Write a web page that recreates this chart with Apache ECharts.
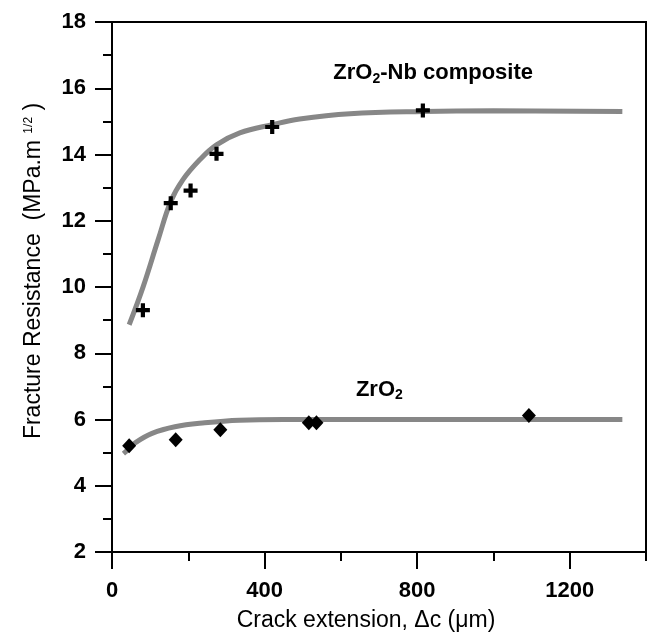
<!DOCTYPE html>
<html>
<head>
<meta charset="utf-8">
<script src="https://cdn.jsdelivr.net/npm/echarts@6/dist/echarts.min.js"></script>
<style>
html, body { margin: 0; padding: 0; background: #fff; }
#chart { width: 648px; height: 637px; }
</style>
</head>
<body>
<div id="chart"></div>
<script>
// measured data points
var compositeX = [81, 154, 206, 274, 420, 815];
var compositeY = [9.3, 12.53, 12.91, 14.02, 14.83, 15.33];
var zro2X = [45, 167, 284, 516, 536, 1093];
var zro2Y = [5.21, 5.39, 5.69, 5.9, 5.9, 6.12];
// fitted curves
var compositeFitX = [45, 82, 121, 154, 186, 230, 274, 335, 420, 492, 624, 815, 1000, 1338];
var compositeFitY = [8.86, 10.02, 11.43, 12.58, 13.24, 13.84, 14.29, 14.65, 14.9, 15.07, 15.23, 15.3, 15.32, 15.3];
var zro2FitX = [30, 45, 60, 105, 165, 243, 334, 450, 700, 1338];
var zro2FitY = [4.97, 5.12, 5.29, 5.58, 5.78, 5.9, 5.98, 6.0, 6.0, 6.0];
// axis ticks
var xMajorTicks = [0, 400, 800, 1200];
// in-plot labels
var labelText = ['{b|ZrO}{s|2}{b|-Nb composite}', '{b|ZrO}{s|2}'];
var labelX = [842, 701];
var labelY = [16.45, 6.9];

function zip(xs, ys) {
    var out = [];
    for (var i = 0; i < xs.length; i++) out.push([xs[i], ys[i]]);
    return out;
}

var font = 'Liberation Sans, Arial, sans-serif';
var black = '#000';
var plusPath = 'path://M3.5,0H6.5V3.5H10V6.5H6.5V10H3.5V6.5H0V3.5H3.5Z';

var chart = echarts.init(document.getElementById('chart'));
var option = {
    animation: false,
    backgroundColor: '#fff',
    grid: {
        left: 112,
        right: 2,
        top: 22,
        bottom: 85,
        show: true,
        borderColor: black,
        borderWidth: 2,
        containLabel: false,
        outerBoundsMode: 'none'
    },
    xAxis: [
        {
            type: 'value',
            min: 0,
            max: 1400,
            interval: 400,
            position: 'bottom',
            axisLine: { lineStyle: { color: black, width: 2 } },
            axisTick: { length: 17, lineStyle: { color: black, width: 2 }, customValues: xMajorTicks },
            axisLabel: {
                customValues: xMajorTicks,
                formatter: function (v) { return String(v); },
                color: black, fontSize: 22, fontWeight: 'bold', fontFamily: font, margin: 28
            },
            splitLine: { show: false },
            name: 'Crack extension, \u0394c (\u03bcm)',
            nameLocation: 'middle',
            nameGap: 57,
            nameTextStyle: { color: black, fontSize: 23, fontFamily: font, padding: [0, 26, 0, 0] }
        },
        {
            type: 'value',
            min: 0,
            max: 1400,
            interval: 200,
            position: 'bottom',
            axisLine: { show: false },
            axisTick: { length: 9, lineStyle: { color: black, width: 2 } },
            axisLabel: { show: false },
            splitLine: { show: false }
        }
    ],
    yAxis: {
        type: 'value',
        min: 2,
        max: 18,
        interval: 2,
        axisLine: { show: true, lineStyle: { color: black, width: 2 } },
        axisTick: { show: true, length: 17, lineStyle: { color: black, width: 2 } },
        minorTick: { show: true, splitNumber: 2, length: 9, lineStyle: { color: black, width: 2 } },
        axisLabel: { color: black, fontSize: 22, fontWeight: 'bold', fontFamily: font, margin: 26 },
        splitLine: { show: false },
        name: '{t|Fracture Resistance  (MPa.m }{u|1/2}{t| )}',
        nameLocation: 'middle',
        nameGap: 67,
        nameTextStyle: {
            padding: [0, 0, 0, 32],
            rich: {
                t: { color: black, fontSize: 23, fontFamily: font },
                u: { color: black, fontSize: 12, fontFamily: font, padding: [0, 0, 10, 0] }
            }
        }
    },
    series: [
        {
            type: 'line',
            data: zip(compositeFitX, compositeFitY),
            smooth: 0.4,
            showSymbol: false,
            lineStyle: { color: '#878787', width: 5 },
            z: 2
        },
        {
            type: 'line',
            data: zip(zro2FitX, zro2FitY),
            smooth: 0.4,
            showSymbol: false,
            lineStyle: { color: '#878787', width: 5 },
            z: 2
        },
        {
            type: 'scatter',
            data: zip(compositeX, compositeY),
            symbol: plusPath,
            symbolSize: 14,
            itemStyle: { color: black, opacity: 1 },
            z: 3
        },
        {
            type: 'scatter',
            data: zip(zro2X, zro2Y),
            symbol: 'diamond',
            symbolSize: [14, 15],
            itemStyle: { color: black, opacity: 1 },
            z: 3
        },
        {
            type: 'scatter',
            data: zip(labelX, labelY),
            symbolSize: 0,
            silent: true,
            itemStyle: { opacity: 1 },
            label: {
                show: true,
                position: 'inside',
                formatter: function (p) { return labelText[p.dataIndex]; },
                rich: {
                    b: { color: black, fontSize: 22, fontWeight: 'bold', fontFamily: font },
                    s: { color: black, fontSize: 14, fontWeight: 'bold', fontFamily: font, padding: [11, 0, 0, 0] }
                }
            },
            z: 4
        }
    ]
};
chart.setOption(option);
</script>
</body>
</html>
